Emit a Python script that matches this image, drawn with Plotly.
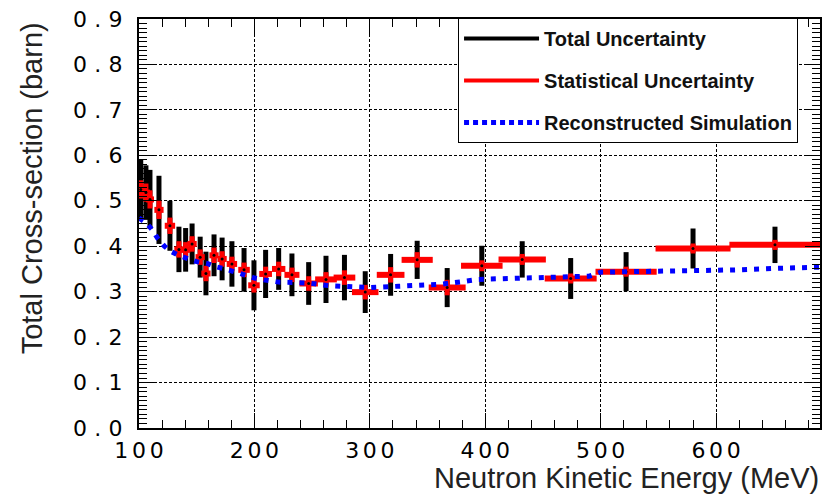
import plotly.graph_objects as go

# Measured total cross-section per energy bin
energy = [101.5, 106, 109.5, 117.3, 126.8, 134.6, 140.4, 146, 153, 158,
          165, 172, 180.5, 191, 199.6, 209.7, 221, 232.5, 247, 262,
          278, 296, 318, 341, 367, 397, 432, 474, 522, 580, 651]
bin_half = [3, 3.5, 3.5, 4, 4.5, 4, 4, 4, 4, 4,
            4, 4, 4.5, 5, 5, 5.5, 5.8, 6.5, 8, 9.4,
            9.4, 11.5, 12, 13.5, 16, 18, 20.5, 22.5, 26.5, 32.5, 39.5]
xsec = [0.525, 0.518, 0.503, 0.480, 0.445, 0.393, 0.392, 0.405, 0.376, 0.340,
        0.380, 0.372, 0.361, 0.348, 0.314, 0.339, 0.350, 0.337, 0.318, 0.327,
        0.331, 0.299, 0.337, 0.370, 0.309, 0.357, 0.371, 0.329, 0.344, 0.395, 0.403]
stat_err = [0.020, 0.020, 0.020, 0.020, 0.018, 0.018, 0.017, 0.017, 0.017, 0.017,
            0.017, 0.017, 0.016, 0.016, 0.016, 0.016, 0.016, 0.016, 0.016, 0.016,
            0.016, 0.016, 0.017, 0.017, 0.017, 0.012, 0.012, 0.011, 0.011, 0.011, 0.011]
total_err = [0.065, 0.060, 0.065, 0.075, 0.055, 0.050, 0.048, 0.045, 0.045, 0.048,
             0.046, 0.047, 0.050, 0.048, 0.055, 0.053, 0.046, 0.047, 0.047, 0.052,
             0.050, 0.046, 0.046, 0.042, 0.043, 0.044, 0.040, 0.045, 0.043, 0.044, 0.040]

# Reconstructed simulation curve
sim_energy = [100, 106, 111.5, 116, 122, 128, 135, 142, 150, 159, 166, 175, 182, 191,
              200, 208, 221, 235, 247, 265, 280, 300, 325, 360, 380, 394, 420, 460,
              490, 500, 540, 585, 620, 650, 690]
sim_xsec = [0.462, 0.452, 0.436, 0.418, 0.400, 0.388, 0.379, 0.373, 0.366, 0.362, 0.355,
            0.350, 0.344, 0.337, 0.330, 0.326, 0.321, 0.320, 0.319, 0.313, 0.311, 0.309,
            0.312, 0.316, 0.322, 0.327, 0.329, 0.331, 0.334, 0.343, 0.344, 0.345, 0.348,
            0.351, 0.354]

x_ticks = [100, 200, 300, 400, 500, 600]
y_ticks = [0.0, 0.1, 0.2, 0.3, 0.4, 0.5, 0.6, 0.7, 0.8, 0.9]
y_tick_labels = ["0.0", "0.1", "0.2", "0.3", "0.4", "0.5", "0.6", "0.7", "0.8", "0.9"]

legend_names = ["Total Uncertainty", "Statistical Uncertainty", "Reconstructed Simulation"]


def spaced(label):
    """Widen tick labels: six-per-em space between digits, wider around the point."""
    out = ""
    for i, ch in enumerate(label):
        if i > 0:
            out += "\u2004" if (ch == "." or label[i - 1] == ".") else "\u2006"
        out += ch
    return out


TICK_FONT = dict(family="DejaVu Sans", size=22, color="black")
TITLE_FONT = dict(family="Liberation Sans, Arial", size=29, color="#222")

fig = go.Figure()

# Legend entries
fig.add_trace(go.Scatter(x=[None], y=[None], mode="lines", name=legend_names[0],
                         legendgroup="a", line=dict(color="black", width=4)))
fig.add_trace(go.Scatter(x=[None], y=[None], mode="lines", name=legend_names[1],
                         legendgroup="b", line=dict(color="red", width=4)))
fig.add_trace(go.Scatter(x=[None], y=[None], mode="lines", name=legend_names[2],
                         legendgroup="c", line=dict(color="#0000ff", width=5, dash="5px,4px")))

# Total uncertainty bars
fig.add_trace(go.Scatter(
    x=energy, y=xsec, mode="markers", showlegend=False, hoverinfo="skip",
    marker=dict(size=1, color="rgba(0,0,0,0)"),
    error_y=dict(type="data", array=total_err, visible=True,
                 color="black", thickness=5, width=0),
))

# Statistical uncertainty crosses (bin width horizontally)
fig.add_trace(go.Scatter(
    x=energy, y=xsec, mode="markers", showlegend=False,
    marker=dict(size=3, color="black"),
    error_x=dict(type="data", array=bin_half, visible=True,
                 color="red", thickness=6, width=0),
    error_y=dict(type="data", array=stat_err, visible=True,
                 color="red", thickness=5, width=0),
))

# Simulation
fig.add_trace(go.Scatter(
    x=sim_energy, y=sim_xsec, mode="lines", showlegend=False,
    line=dict(color="#0000ff", width=5, dash="5px,7px"),
))

axis_common = dict(
    showline=True, linecolor="black", linewidth=2, mirror="allticks",
    ticks="inside", ticklen=15, tickwidth=1, tickcolor="black",
    showgrid=True, gridcolor="black", gridwidth=1, griddash="3px,2px",
    zeroline=False, tickfont=TICK_FONT,
)

fig.update_layout(
    width=825, height=494,
    margin=dict(l=139, r=3, t=19, b=66),
    paper_bgcolor="white", plot_bgcolor="white",
    xaxis=dict(range=[100, 690], tickvals=x_ticks,
               ticktext=[spaced(str(v)) for v in x_ticks],
               ticklabelstandoff=2,
               minor=dict(ticks="inside", ticklen=8, dtick=20, tick0=100,
                          tickcolor="black", showgrid=False),
               **axis_common),
    yaxis=dict(range=[0, 0.9], tickvals=y_ticks,
               ticktext=[spaced(t) for t in y_tick_labels],
               ticklabelstandoff=10,
               minor=dict(ticks="inside", ticklen=8, dtick=0.01, tick0=0,
                          tickcolor="black", showgrid=False),
               **axis_common),
    legend=dict(x=0.4685, y=1.0025, xanchor="left", yanchor="top",
                bgcolor="white", bordercolor="black", borderwidth=1,
                font=dict(family="Liberation Sans, Arial", size=20, color="#111", weight="bold"),
                itemwidth=75, tracegroupgap=13, traceorder="grouped"),
    annotations=[
        dict(text="Total Cross-section (barn)", xref="paper", yref="paper",
             x=(32 - 139) / 683, y=1 - (20 - 19) / 409, xanchor="center", yanchor="top",
             textangle=-90, showarrow=False, font=TITLE_FONT),
        dict(text="Neutron Kinetic Energy (MeV)", xref="paper", yref="paper",
             x=(823 - 139) / 683, y=(428 - 477.5) / 409, xanchor="right", yanchor="middle",
             showarrow=False, font=TITLE_FONT),
    ],
)

fig.write_html("out.html")
